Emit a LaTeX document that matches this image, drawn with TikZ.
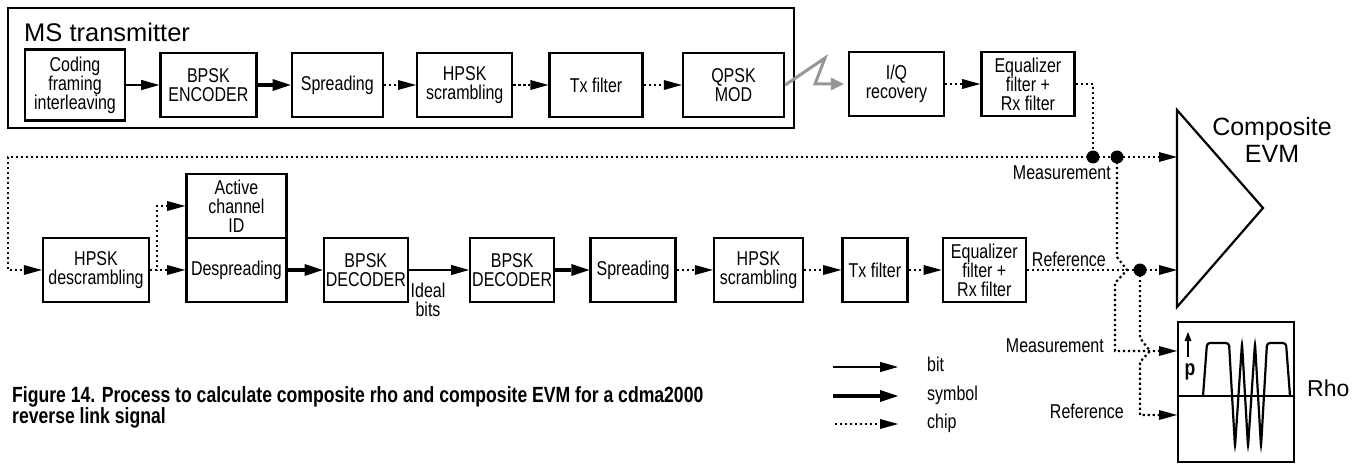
\documentclass[tikz,border=0pt]{standalone}
\usepackage{fontspec}
\setmainfont{Liberation Sans}[FakeStretch=0.8]
\newfontfamily\widefont{Liberation Sans}
\usepackage{tikz}
\usetikzlibrary{arrows.meta, positioning}
\definecolor{radiogray}{RGB}{150, 150, 150}

\begin{document}
\begin{tikzpicture}[x=1pt, y=1pt,
    blk/.style={draw, line width=2.4pt, align=center, inner sep=2pt,
                minimum height=64pt, font=\fontsize{20}{19}\selectfont},
    lbl/.style={font=\fontsize{20}{19}\selectfont, inner sep=1pt},
    bitline/.style={line width=1.2pt, -{Triangle[length=18pt, width=10pt]}},
    symline/.style={line width=4.5pt, -{Triangle[length=18pt, width=12pt, line width=0pt]}},
    chipwire/.style={line width=2.2pt, dash pattern=on 2.2pt off 2.8pt},
    chipline/.style={chipwire, -{Triangle[length=18pt, width=10pt, line width=0pt]}},
    junction/.style={fill=black}
]
    \useasboundingbox (0,0) rectangle (1367,-465);

    % transmitter frame
    \draw[line width=2pt] (8,-8) rectangle (794,-128);
    \node[anchor=west, inner sep=1pt, font=\widefont\fontsize{25.5}{27}\selectfont] (mstx) at (23,-32) {MS transmitter};

    \node[blk, minimum width=100pt, minimum height=71pt] (code) at (75,-85) {Coding\\framing\\interleaving};
    \node[blk, minimum width=96pt, right=33pt of code] (enc) {BPSK\\ENCODER};
    \node[blk, minimum width=91pt, right=33pt of enc] (spr) {Spreading};
    \node[blk, minimum width=95pt, right=32pt of spr] (hscr) {HPSK\\scrambling};
    \node[blk, minimum width=93pt, right=35pt of hscr] (txf) {Tx filter};
    \node[blk, minimum width=101pt, right=38pt of txf] (qpsk) {QPSK\\MOD};
    \node[blk, minimum width=95pt] (iq) at (896.5,-84) {I/Q\\recovery};
    \node[blk, minimum width=93pt, right=35pt of iq] (eqt) {Equalizer\\filter +\\Rx filter};

    \draw[bitline] (code) -- (enc);
    \draw[symline] (enc) -- (spr);
    \draw[chipline] (spr) -- (hscr);
    \draw[chipline] (hscr) -- (txf);
    \draw[chipline] (txf) -- (qpsk);
    \draw[line width=3pt, radiogray, line join=miter, shorten >=4pt,
          -{Triangle[length=13pt, width=13pt, line width=0pt]}]
        (qpsk.east) -- (825,-58) -- (815,-84) -- (iq.west);
    \draw[chipline] (iq) -- (eqt);

    % receiver chain
    \node[blk, minimum width=106pt] (hdes) at (96,-270) {HPSK\\descrambling};
    \node[blk, minimum width=100pt, right=35pt of hdes] (desp) {Despreading};
    \node[blk, minimum width=100pt, above=-2.4pt of desp] (act) {Active\\channel\\ID};
    \node[blk, minimum width=80pt, right=35pt of desp] (dec1) {BPSK\\DECODER};
    \node[blk, minimum width=81pt, right=60pt of dec1] (dec2) {BPSK\\DECODER};
    \node[blk, minimum width=85pt, right=34pt of dec2] (spr2) {Spreading};
    \node[blk, minimum width=89pt, right=36pt of spr2] (hscr2) {HPSK\\scrambling};
    \node[blk, minimum width=65pt, right=37pt of hscr2] (txf2) {Tx filter};
    \node[blk, minimum width=83pt, right=33pt of txf2] (eqb) {Equalizer\\filter +\\Rx filter};

    \coordinate (fb) at (8,-157);
    \coordinate (m1) at (1093,-157);
    \coordinate (m2) at (1117,-157);
    \coordinate (r1) at (1140,-270);
    \coordinate (evmm) at (1177,-157);
    \coordinate (evmr) at (1177,-270);
    \coordinate (rhom) at (1177,-351);
    \coordinate (rhor) at (1177,-415);

    \draw[chipwire] (eqt.east) -| (m1);
    \draw[chipline] (m1) -- (fb) |- (hdes.west);
    \draw[chipline] (m1) -- (m2) -- (evmm);
    \draw[chipline] (hdes) -- (desp);
    \draw[chipline] (hdes.east) -- ++(7,0) |- (act.west);
    \draw[symline] (desp) -- (dec1);
    \draw[bitline] (dec1) -- (dec2);
    \node[lbl, align=center] (ideal) at (428,-300) {Ideal\\bits};
    \draw[symline] (dec2) -- (spr2);
    \draw[chipline] (spr2) -- (hscr2);
    \draw[chipline] (hscr2) -- (txf2);
    \draw[chipline] (txf2) -- (eqb);
    \draw[chipwire] (eqb.east) -- (r1);
    \draw[chipline] (r1) -- (evmr);

    % crossing drops to the rho display
    \draw[chipline] (m2) -- (1117,-257) -- (1127,-270) -- (1115,-283) |- (rhom);
    \draw[chipline] (r1) -- (1140,-338) -- (1150,-351) -- (1140,-362) |- (rhor);

    \fill[junction] (m1) circle (6.5pt);
    \fill[junction] (m2) circle (6.5pt);
    \fill[junction] (r1) circle (6.5pt);

    \node[lbl, anchor=east] (meas1) at (1112,-173) {Measurement};
    \node[lbl, anchor=east] (ref1) at (1107,-259) {Reference};
    \node[lbl, anchor=east] (meas2) at (1105,-346) {Measurement};
    \node[lbl, anchor=east] (ref2) at (1125,-411) {Reference};

    % composite EVM
    \draw[line width=2.2pt, line join=miter] (1177,-110) -- (1263,-208) -- (1177,-307) -- cycle;
    \node[align=center, inner sep=1pt, font=\widefont\fontsize{25}{27}\selectfont] (evm) at (1272,-140) {Composite\\EVM};

    % rho display
    \node[draw, line width=2.4pt, minimum width=115.6pt, minimum height=139.6pt] (rho) at (1236,-392) {};
    \draw[line width=2.4pt] (1177,-396) -- (1295,-396);
    \draw[line width=1.6pt, -{Triangle[length=9pt, width=7pt, line width=0pt]}] (1188,-357) -- (1188,-332);
    \node[inner sep=0pt, font=\bfseries\fontsize{22}{22}\selectfont] (rhosym) at (1190,-372) {p};
    \draw[line width=2.2pt, rounded corners=3pt]
        (1203,-396) -- (1207,-343) -- (1229,-343) -- (1235,-447) -- (1242,-343)
        -- (1248,-447) -- (1255,-343) -- (1261,-447) -- (1267,-343) -- (1286,-343) -- (1290,-396);
    \node[anchor=west, inner sep=1pt, font=\widefont\fontsize{23}{25}\selectfont] (rholbl) at (1306,-388) {Rho};

    % legend
    \node[lbl, anchor=west, text height=13pt, text depth=4pt] (lgbit) at (926,-367) {bit};
    \node[lbl, anchor=west, text height=13pt, text depth=4pt] (lgsym) at (926,-396) {symbol};
    \node[lbl, anchor=west, text height=13pt, text depth=4pt] (lgchip) at (926,-424) {chip};
    \draw[bitline] ([xshift=-93pt]lgbit.west) -- ([xshift=-28pt]lgbit.west);
    \draw[symline] ([xshift=-93pt]lgsym.west) -- ([xshift=-28pt]lgsym.west);
    \draw[chipline] ([xshift=-91pt]lgchip.west) -- ([xshift=-28pt]lgchip.west);

    \node[anchor=north west, align=left, inner sep=1pt, font=\bfseries\fontsize{22}{21}\selectfont] (caption) at (11,-385)
        {Figure 14. Process to calculate composite rho and composite EVM for a cdma2000\\reverse link signal};
\end{tikzpicture}
\end{document}
